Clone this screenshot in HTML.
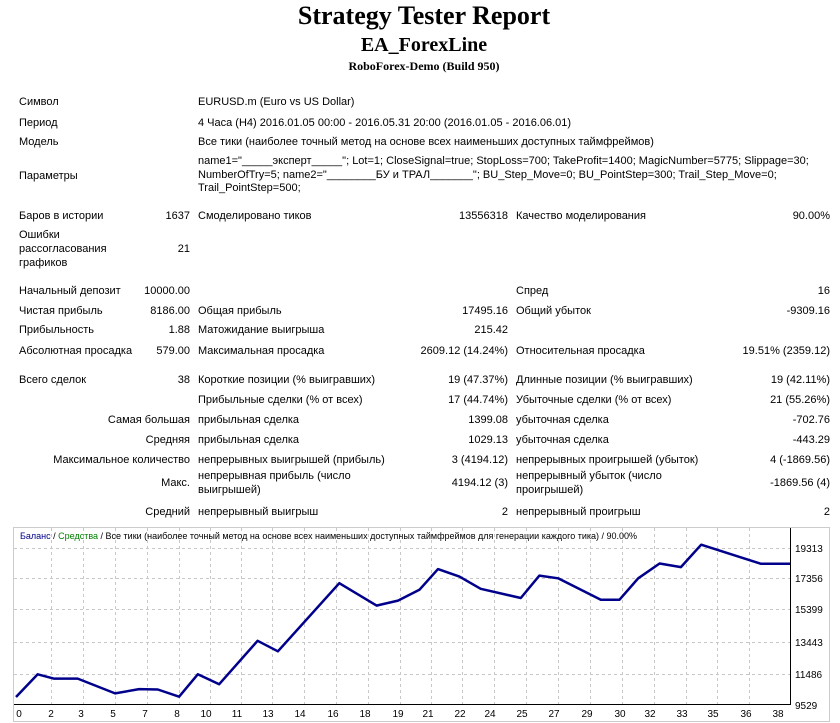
<!DOCTYPE html>
<html><head><meta charset="utf-8"><style>
body{margin:0;width:840px;height:723px;background:#fff;position:relative;overflow:hidden;font-family:"Liberation Sans","DejaVu Sans",sans-serif;font-size:11px;color:#000}
.a{position:absolute;white-space:nowrap;line-height:14px}
.h{position:absolute;left:0;width:848px;text-align:center;font-family:"Liberation Serif",serif;font-weight:bold;white-space:nowrap}
</style></head><body>
<div class="h" style="top:1px;font-size:26px;line-height:30px">Strategy Tester Report</div>
<div class="h" style="top:33px;font-size:20px;line-height:24px">EA_ForexLine</div>
<div class="h" style="top:58px;font-size:12px;line-height:16px">RoboForex-Demo (Build 950)</div>

<div class="a" style="left:19px;top:95px">Символ</div>
<div class="a" style="left:198px;top:95px">EURUSD.m (Euro vs US Dollar)</div>
<div class="a" style="left:19px;top:116px">Период</div>
<div class="a" style="left:198px;top:116px">4 Часа (H4) 2016.01.05 00:00 - 2016.05.31 20:00 (2016.01.05 - 2016.06.01)</div>
<div class="a" style="left:19px;top:135px">Модель</div>
<div class="a" style="left:198px;top:135px">Все тики (наиболее точный метод на основе всех наименьших доступных таймфреймов)</div>
<div class="a" style="left:19px;top:169px">Параметры</div>
<div class="a" style="left:198px;top:155px;line-height:13.5px">name1="_____эксперт_____"; Lot=1; CloseSignal=true; StopLoss=700; TakeProfit=1400; MagicNumber=5775; Slippage=30;<br>NumberOfTry=5; name2="________БУ и ТРАЛ_______"; BU_Step_Move=0; BU_PointStep=300; Trail_Step_Move=0;<br>Trail_PointStep=500;</div>

<div class="a" style="left:19px;top:209px">Баров в истории</div>
<div class="a" style="right:650px;top:209px">1637</div>
<div class="a" style="left:198px;top:209px">Смоделировано тиков</div>
<div class="a" style="right:332px;top:209px">13556318</div>
<div class="a" style="left:516px;top:209px">Качество моделирования</div>
<div class="a" style="right:10px;top:209px">90.00%</div>

<div class="a" style="left:19px;top:228px">Ошибки<br>рассогласования<br>графиков</div>
<div class="a" style="right:650px;top:242px">21</div>

<div class="a" style="left:19px;top:284px">Начальный депозит</div>
<div class="a" style="right:650px;top:284px">10000.00</div>
<div class="a" style="left:516px;top:284px">Спред</div>
<div class="a" style="right:10px;top:284px">16</div>

<div class="a" style="left:19px;top:304px">Чистая прибыль</div>
<div class="a" style="right:650px;top:304px">8186.00</div>
<div class="a" style="left:198px;top:304px">Общая прибыль</div>
<div class="a" style="right:332px;top:304px">17495.16</div>
<div class="a" style="left:516px;top:304px">Общий убыток</div>
<div class="a" style="right:10px;top:304px">-9309.16</div>

<div class="a" style="left:19px;top:323px">Прибыльность</div>
<div class="a" style="right:650px;top:323px">1.88</div>
<div class="a" style="left:198px;top:323px">Матожидание выигрыша</div>
<div class="a" style="right:332px;top:323px">215.42</div>

<div class="a" style="left:19px;top:344px">Абсолютная просадка</div>
<div class="a" style="right:650px;top:344px">579.00</div>
<div class="a" style="left:198px;top:344px">Максимальная просадка</div>
<div class="a" style="right:332px;top:344px">2609.12 (14.24%)</div>
<div class="a" style="left:516px;top:344px">Относительная просадка</div>
<div class="a" style="right:10px;top:344px">19.51% (2359.12)</div>

<div class="a" style="left:19px;top:373px">Всего сделок</div>
<div class="a" style="right:650px;top:373px">38</div>
<div class="a" style="left:198px;top:373px">Короткие позиции (% выигравших)</div>
<div class="a" style="right:332px;top:373px">19 (47.37%)</div>
<div class="a" style="left:516px;top:373px">Длинные позиции (% выигравших)</div>
<div class="a" style="right:10px;top:373px">19 (42.11%)</div>

<div class="a" style="left:198px;top:393px">Прибыльные сделки (% от всех)</div>
<div class="a" style="right:332px;top:393px">17 (44.74%)</div>
<div class="a" style="left:516px;top:393px">Убыточные сделки (% от всех)</div>
<div class="a" style="right:10px;top:393px">21 (55.26%)</div>

<div class="a" style="right:650px;top:413px">Самая большая</div>
<div class="a" style="left:198px;top:413px">прибыльная сделка</div>
<div class="a" style="right:332px;top:413px">1399.08</div>
<div class="a" style="left:516px;top:413px">убыточная сделка</div>
<div class="a" style="right:10px;top:413px">-702.76</div>

<div class="a" style="right:650px;top:433px">Средняя</div>
<div class="a" style="left:198px;top:433px">прибыльная сделка</div>
<div class="a" style="right:332px;top:433px">1029.13</div>
<div class="a" style="left:516px;top:433px">убыточная сделка</div>
<div class="a" style="right:10px;top:433px">-443.29</div>

<div class="a" style="right:650px;top:453px">Максимальное количество</div>
<div class="a" style="left:198px;top:453px">непрерывных выигрышей (прибыль)</div>
<div class="a" style="right:332px;top:453px">3 (4194.12)</div>
<div class="a" style="left:516px;top:453px">непрерывных проигрышей (убыток)</div>
<div class="a" style="right:10px;top:453px">4 (-1869.56)</div>

<div class="a" style="right:650px;top:476px">Макс.</div>
<div class="a" style="left:198px;top:469px">непрерывная прибыль (число<br>выигрышей)</div>
<div class="a" style="right:332px;top:476px">4194.12 (3)</div>
<div class="a" style="left:516px;top:469px">непрерывный убыток (число<br>проигрышей)</div>
<div class="a" style="right:10px;top:476px">-1869.56 (4)</div>

<div class="a" style="right:650px;top:505px">Средний</div>
<div class="a" style="left:198px;top:505px">непрерывный выигрыш</div>
<div class="a" style="right:332px;top:505px">2</div>
<div class="a" style="left:516px;top:505px">непрерывный проигрыш</div>
<div class="a" style="right:10px;top:505px">2</div>

<svg style="position:absolute;left:0;top:0" width="840" height="723">
<rect x="13.5" y="527.5" width="816" height="194" fill="none" stroke="#ccc"/>
<g stroke="#c8c8c8" stroke-dasharray="3,3" stroke-width="1">
<line x1="14" x2="790" y1="548.5" y2="548.5"/><line x1="14" x2="790" y1="578.5" y2="578.5"/>
<line x1="14" x2="790" y1="609.5" y2="609.5"/><line x1="14" x2="790" y1="642.5" y2="642.5"/>
<line x1="14" x2="790" y1="674.5" y2="674.5"/>
<g id="v">
<line x1="51.5" x2="51.5" y1="528" y2="704"/><line x1="83.5" x2="83.5" y1="528" y2="704"/>
<line x1="115.5" x2="115.5" y1="528" y2="704"/><line x1="147.5" x2="147.5" y1="528" y2="704"/>
<line x1="179.5" x2="179.5" y1="528" y2="704"/><line x1="210.5" x2="210.5" y1="528" y2="704"/>
<line x1="241.5" x2="241.5" y1="528" y2="704"/><line x1="272.5" x2="272.5" y1="528" y2="704"/>
<line x1="304.5" x2="304.5" y1="528" y2="704"/><line x1="336.5" x2="336.5" y1="528" y2="704"/>
<line x1="368.5" x2="368.5" y1="528" y2="704"/><line x1="400.5" x2="400.5" y1="528" y2="704"/>
<line x1="431.5" x2="431.5" y1="528" y2="704"/><line x1="462.5" x2="462.5" y1="528" y2="704"/>
<line x1="494.5" x2="494.5" y1="528" y2="704"/><line x1="526.5" x2="526.5" y1="528" y2="704"/>
<line x1="558.5" x2="558.5" y1="528" y2="704"/><line x1="590.5" x2="590.5" y1="528" y2="704"/>
<line x1="622.5" x2="622.5" y1="528" y2="704"/><line x1="654.5" x2="654.5" y1="528" y2="704"/>
<line x1="686.5" x2="686.5" y1="528" y2="704"/><line x1="717.5" x2="717.5" y1="528" y2="704"/>
<line x1="749.5" x2="749.5" y1="528" y2="704"/>
</g></g>
<line x1="790.5" x2="790.5" y1="528" y2="705" stroke="#000"/>
<line x1="14" x2="791" y1="704.5" y2="704.5" stroke="#000"/>
<polyline fill="none" stroke="#00008b" stroke-width="2.5" stroke-linejoin="round" points="16,697 37.7,674.3 53.7,678.6 77.7,678.6 115.1,693.4 139.1,689.1 157.8,689.5 179.1,696.7 197.8,674.3 219.2,684.2 257.6,640.8 277.9,651.3 339.3,583.2 376.6,605.6 398,600.6 419.4,589.8 438,569.1 459.4,576.6 480.7,588.8 520.8,598 539.4,575.6 558.1,578.3 600.8,599.7 619.5,599.7 638.2,578.3 659.6,563.5 680.9,567.1 701.2,544.7 761,563.8 790,563.8"/>
<g font-family="Liberation Sans, sans-serif" font-size="10" fill="#000">
<text x="795" y="552">19313</text><text x="795" y="582">17356</text><text x="795" y="613">15399</text>
<text x="795" y="646">13443</text><text x="795" y="678">11486</text><text x="795" y="709">9529</text>
<g text-anchor="middle">
<text x="19" y="717">0</text><text x="51" y="717">2</text><text x="81" y="717">3</text><text x="113" y="717">5</text>
<text x="145" y="717">7</text><text x="177" y="717">8</text><text x="206" y="717">10</text><text x="237" y="717">11</text>
<text x="268" y="717">13</text><text x="300" y="717">14</text><text x="333" y="717">16</text><text x="365" y="717">18</text>
<text x="398" y="717">19</text><text x="428" y="717">21</text><text x="460" y="717">22</text><text x="490" y="717">24</text>
<text x="522" y="717">25</text><text x="554" y="717">27</text><text x="587" y="717">29</text><text x="620" y="717">30</text>
<text x="650" y="717">32</text><text x="682" y="717">33</text><text x="713" y="717">35</text><text x="746" y="717">36</text>
<text x="778" y="717">38</text></g>
<text x="20" y="539" font-size="9"><tspan fill="#00008b">Баланс</tspan> / <tspan fill="#008000">Средства</tspan> / Все тики (наиболее точный метод на основе всех наименьших доступных таймфреймов для генерации каждого тика) / 90.00%</text>
</g>
</svg>
</body></html>
